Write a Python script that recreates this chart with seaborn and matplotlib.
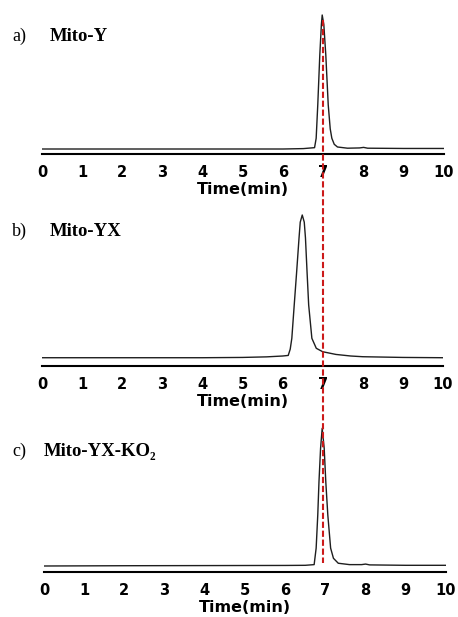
import numpy as np
import pandas as pd
import matplotlib
matplotlib.use("Agg")
import matplotlib.pyplot as plt
import matplotlib.transforms as mtransforms
from matplotlib.lines import Line2D
import seaborn as sns

# ---------------- data ----------------
panel_tags = ["a)", "b)", "c)"]
panel_names = ["Mito-Y", "Mito-YX", "Mito-YX-KO\u2082"]

time_a = [0, 1, 2, 3, 4, 5, 6, 6.5, 6.78, 6.82, 6.86, 6.91, 6.95, 6.97, 7.01,
          7.06, 7.12, 7.17, 7.21, 7.27, 7.35, 7.6, 7.9, 8.0, 8.1, 9, 10]
signal_a = [0, 0, 0, 0, 0, 0, 0, 0.003, 0.01, 0.08, 0.33, 0.70, 0.93, 1.0, 0.93,
            0.70, 0.33, 0.15, 0.08, 0.035, 0.015, 0.006, 0.008, 0.012, 0.006, 0.004, 0.004]

time_b = [0, 2, 4, 5, 5.6, 6.0, 6.14, 6.19, 6.23, 6.29, 6.35, 6.41, 6.44, 6.49,
          6.54, 6.57, 6.61, 6.65, 6.73, 6.84, 7.0, 7.33, 7.7, 8.0, 9, 10]
signal_b = [0, 0, 0, 0.002, 0.006, 0.012, 0.016, 0.06, 0.136, 0.37, 0.60, 0.84, 0.95, 1.0,
            0.95, 0.84, 0.60, 0.37, 0.136, 0.066, 0.042, 0.023, 0.012, 0.007, 0.002, 0.0]

time_c = [0, 2, 4, 6, 6.5, 6.72, 6.77, 6.81, 6.84, 6.88, 6.92, 6.97, 7.01, 7.06,
          7.13, 7.20, 7.32, 7.6, 7.9, 8.0, 8.1, 9, 10]
signal_c = [0, 0.002, 0.003, 0.004, 0.005, 0.01, 0.13, 0.37, 0.61, 0.855, 1.0, 0.855,
            0.61, 0.37, 0.13, 0.056, 0.02, 0.01, 0.01, 0.014, 0.008, 0.005, 0.005]

x_ticks = [0, 1, 2, 3, 4, 5, 6, 7, 8, 9, 10]
x_label = "Time(min)"
reference_time = 6.98  # red dashed guide (min, on panel a's axis)

# ---------------- style ----------------
sns.set_style("white")
plt.rcParams["font.family"] = ["DejaVu Sans"]
plt.rcParams["text.color"] = "black"
plt.rcParams["axes.labelcolor"] = "black"
plt.rcParams["xtick.color"] = "black"

W, H = 458, 617
fig = plt.figure(figsize=(W / 100, H / 100), dpi=100)


def px_rect(left, right, top, bottom):
    return [left / W, 1 - bottom / H, (right - left) / W, (bottom - top) / H]


# axes positions (pixels): left, right, top, bottom
axes_px = [(42, 444, 12, 154), (42, 443, 210, 366), (44, 446, 423, 572)]
ylims = [(-0.0373, 1.0224), (-0.058, 1.035), (-0.0436, 1.0385)]
traces = [(time_a, signal_a), (time_b, signal_b), (time_c, signal_c)]
# label positions: (tag x, name x, baseline y) in pixels
label_px = [(12, 50, 41), (12, 50, 236), (12, 44, 456)]

axes = []
for i, ((l, r, t, b), yl, (tt, ss)) in enumerate(zip(axes_px, ylims, traces)):
    ax = fig.add_axes(px_rect(l, r, t, b))
    df = pd.DataFrame({"time": tt, "signal": ss})
    sns.lineplot(data=df, x="time", y="signal", ax=ax, color="#1e1e1e",
                 linewidth=1.0, sort=False)
    ax.set_xlim(0, 10)
    ax.set_ylim(*yl)
    ax.set_xticks(x_ticks)
    ax.set_xticklabels([str(v) for v in x_ticks], fontweight="bold", fontsize=10.5,
                       color="black")
    ax.set_yticks([])
    ax.set_ylabel("")
    ax.set_xlabel(x_label, fontweight="bold", fontsize=11.5, labelpad=1.5, color="black")
    for s in ["top", "right", "left"]:
        ax.spines[s].set_visible(False)
    ax.spines["bottom"].set_linewidth(1.5)
    ax.spines["bottom"].set_color("black")
    ax.tick_params(axis="x", direction="out", length=3.8, width=1.5,
                   colors="black", pad=4.0)
    ax.patch.set_alpha(0)
    axes.append(ax)

    tx, nx, by = label_px[i]
    fig.text(tx / W, 1 - by / H, panel_tags[i], family=["Liberation Serif", "DejaVu Serif"],
             fontsize=13, va="baseline", ha="left", color="black")
    fig.text(nx / W, 1 - by / H, panel_names[i], family=["Liberation Serif", "DejaVu Serif"],
             fontsize=13.5, fontweight="bold", va="baseline", ha="left", color="black")

# red dashed guide across all panels
trans = mtransforms.blended_transform_factory(axes[0].transData, fig.transFigure)
fig.add_artist(Line2D([reference_time, reference_time], [1 - 20 / H, 1 - 563 / H],
                      transform=trans, color="#cc1a1a", linewidth=1.5,
                      linestyle=(0, (3, 1.3)), zorder=10))

fig.savefig("out.png", dpi=100)
